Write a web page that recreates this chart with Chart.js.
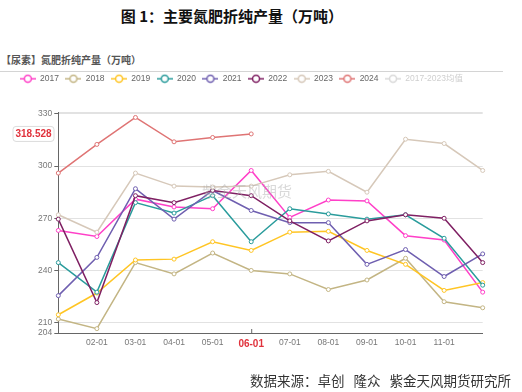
<!DOCTYPE html>
<html lang="zh">
<head>
<meta charset="utf-8">
<title>主要氮肥折纯产量</title>
<script src="https://cdn.jsdelivr.net/npm/chart.js@4.4.1/dist/chart.umd.min.js"></script>
<style>
  html, body { margin: 0; padding: 0; background: #fff; }
  #wrap { position: relative; width: 522px; height: 392px; overflow: hidden; font-family: "Noto Sans CJK SC", sans-serif; }
  #chart { position: absolute; left: 0; top: 0; }
  .title { position: absolute; top: 6px; left: 0; width: 464px; text-align: center; font-size: 15px; line-height: 20px; font-weight: bold; color: #111; }
  .subtitle { position: absolute; top: 54px; left: 1px; font-size: 10px; line-height: 12px; font-weight: bold; color: #555; }
  .sep { position: absolute; top: 71px; left: 0; width: 503px; height: 1px; background: #d4d4d4; }
  .source { position: absolute; top: 373px; right: 11px; font-size: 13.5px; line-height: 14px; color: #333; white-space: nowrap; }
  .source span { margin-left: 9px; }
  .watermark { position: absolute; top: 182px; left: 202px; font-size: 15px; line-height: 18px; color: rgba(170, 170, 170, 0.45); z-index: 2; }
</style>
</head>
<body>
<div id="wrap">
  <div class="title">图 1：主要氮肥折纯产量（万吨）</div>
  <div class="subtitle">【尿素】氮肥折纯产量（万吨）</div>
  <div class="sep"></div>
  <canvas id="chart" width="522" height="392"></canvas>
  <div class="watermark">紫金天风期货</div>
  <div class="source">数据来源：卓创<span>隆众</span><span>紫金天风期货研究所</span></div>
</div>
<script>
// Categories and series (万吨)
const months = ["01-01", "02-01", "03-01", "04-01", "05-01", "06-01",
  "07-01", "08-01", "09-01", "10-01", "11-01", "12-01"];
const seriesNames = ["2017", "2018", "2019", "2020", "2021", "2022", "2023", "2024"];
const avgName = "2017-2023均值";

const y2017 = [263, 259.5, 281, 276.5, 275.5, 297.5, 270.5, 280.5, 280, 260, 257.5, 227.5];
const y2018 = [212, 206.5, 244.5, 238, 250, 240, 238, 229, 234.5, 247, 222, 218.5];
const y2019 = [214.5, 227, 246, 246.5, 256.5, 251.5, 262, 262.5, 251.5, 243.5, 228.5, 233];
const y2020 = [244.5, 227.5, 279, 273, 283, 256.5, 275.5, 272.5, 269.5, 272, 258.5, 231.5];
const y2021 = [225.5, 247.5, 287, 269.5, 286, 274.5, 267.5, 267.5, 243.5, 252, 236.5, 249.5];
const y2022 = [269.5, 221.5, 283, 279, 286, 283, 268.5, 257, 268.5, 272, 270, 244.5];
const y2023 = [272, 262, 296, 288.5, 288, 288.5, 295, 297, 285, 315.5, 313, 297.5];
const y2024 = [296, 312.5, 328, 314, 316.5, 318.528];

const yTicks = [204, 210, 240, 270, 300, 330, 331];
const pointerIndex = 5;       // 06-01
const pointerValue = 318.528;

const seriesData = [y2017, y2018, y2019, y2020, y2021, y2022, y2023, y2024];
const seriesColors = ["#ff40c8", "#c3b584", "#ffc524", "#2a9c9c", "#6f5fb0", "#7f2063", "#d6c8b9", "#df7474"];

Chart.defaults.font.family = "'Liberation Sans', 'Noto Sans CJK SC', sans-serif";

// small "line + hollow circle" icon for the legend
function legendIcon(color) {
  const c = document.createElement("canvas");
  c.width = 16;
  c.height = 10;
  const g = c.getContext("2d");
  g.strokeStyle = color;
  g.lineWidth = 1.5;
  g.beginPath();
  g.moveTo(0, 5);
  g.lineTo(16, 5);
  g.stroke();
  g.beginPath();
  g.arc(8, 5, 3.5, 0, Math.PI * 2);
  g.fillStyle = "#fff";
  g.fill();
  g.stroke();
  return c;
}

const datasets = seriesNames.map((name, i) => ({
  label: name,
  data: seriesData[i],
  borderColor: seriesColors[i],
  backgroundColor: "#fff",
  borderWidth: 1.5,
  pointRadius: 2,
  pointBorderWidth: 1,
  pointBackgroundColor: "#fff",
  tension: 0,
  order: seriesNames.length - i,
}));
datasets.push({
  label: avgName,
  data: [],
  borderColor: "#d9d9d9",
  hidden: true,
  order: 99,
});

// push the plot area down below the legend
const legendGap = {
  id: "legendGap",
  beforeInit(chart) {
    if (!chart.legend) return;
    const origFit = chart.legend.fit;
    chart.legend.fit = function () {
      origFit.call(this);
      this.height += 19.3;
    };
  },
};

// axis pointer labels (value box on y axis, tick on x axis)
const pointerLabel = {
  id: "pointerLabel",
  afterDraw(chart) {
    const { ctx, scales: { x, y } } = chart;
    const py = y.getPixelForValue(pointerValue);
    ctx.save();
    ctx.beginPath();
    ctx.roundRect(13, py - 7.5, 41, 15, 3);
    ctx.fillStyle = "#fff";
    ctx.fill();
    ctx.strokeStyle = "#dcdcdc";
    ctx.lineWidth = 1;
    ctx.stroke();
    ctx.fillStyle = "#e0323c";
    ctx.font = "bold 10px 'Liberation Sans', sans-serif";
    ctx.textAlign = "center";
    ctx.textBaseline = "middle";
    ctx.fillText(pointerValue.toFixed(3), 33.5, py + 0.5);

    const px = x.getPixelForValue(pointerIndex);
    ctx.strokeStyle = "#666";
    ctx.beginPath();
    ctx.moveTo(px + 0.5, y.bottom);
    ctx.lineTo(px + 0.5, y.bottom - 4);
    ctx.stroke();
    ctx.restore();
  },
};

new Chart(document.getElementById("chart").getContext("2d"), {
  type: "line",
  data: { labels: months, datasets: datasets },
  options: {
    responsive: false,
    animation: false,
    layout: { padding: { top: 67.95, right: 39.3, bottom: 0, left: 0 } },
    plugins: {
      tooltip: { enabled: false },
      legend: {
        position: "top",
        labels: {
          usePointStyle: true,
          pointStyleWidth: 16,
          padding: 6.5,
          color: "#666",
          font: { size: 8.5 },
          generateLabels(chart) {
            const items = Chart.defaults.plugins.legend.labels.generateLabels(chart);
            items.forEach((it) => {
              const ds = chart.data.datasets[it.datasetIndex];
              it.pointStyle = legendIcon(ds.borderColor);
              it.fontColor = ds.hidden ? "#cfcfcf" : "#666";
              it.hidden = false;
            });
            return items.sort((a, b) => a.datasetIndex - b.datasetIndex);
          },
        },
      },
    },
    scales: {
      x: {
        afterFit(s) { s.height = 59; },
        grid: { display: false, drawTicks: false },
        border: { color: "#666", width: 1 },
        ticks: {
          autoSkip: false,
          maxRotation: 0,
          padding: 5,
          callback: (v, i) => (i === 0 || i === months.length - 1 ? "" : months[i]),
          color: (c) => (c.index === pointerIndex ? "#e0323c" : "#777"),
          font: (c) => (c.index === pointerIndex ? { size: 10, weight: "bold" } : { size: 8.5 }),
        },
      },
      y: {
        min: 204,
        max: 331,
        afterBuildTicks(s) { s.ticks = yTicks.map((v) => ({ value: v })); },
        afterFit(s) { s.width = 58.3; },
        border: { color: "#666", width: 1 },
        grid: {
          color: (c) => (c.tick && c.tick.value === 204 ? "rgba(0,0,0,0)" : "#e2e2e2"),
          tickColor: (c) => (c.tick && c.tick.value === 331 ? "rgba(0,0,0,0)" : "#666"),
          tickLength: 4,
        },
        ticks: {
          color: "#777",
          font: { size: 8.5 },
          padding: 2,
          callback: (v) => (v === 331 ? "" : v),
        },
      },
    },
  },
  plugins: [legendGap, pointerLabel],
});
</script>
</body>
</html>
